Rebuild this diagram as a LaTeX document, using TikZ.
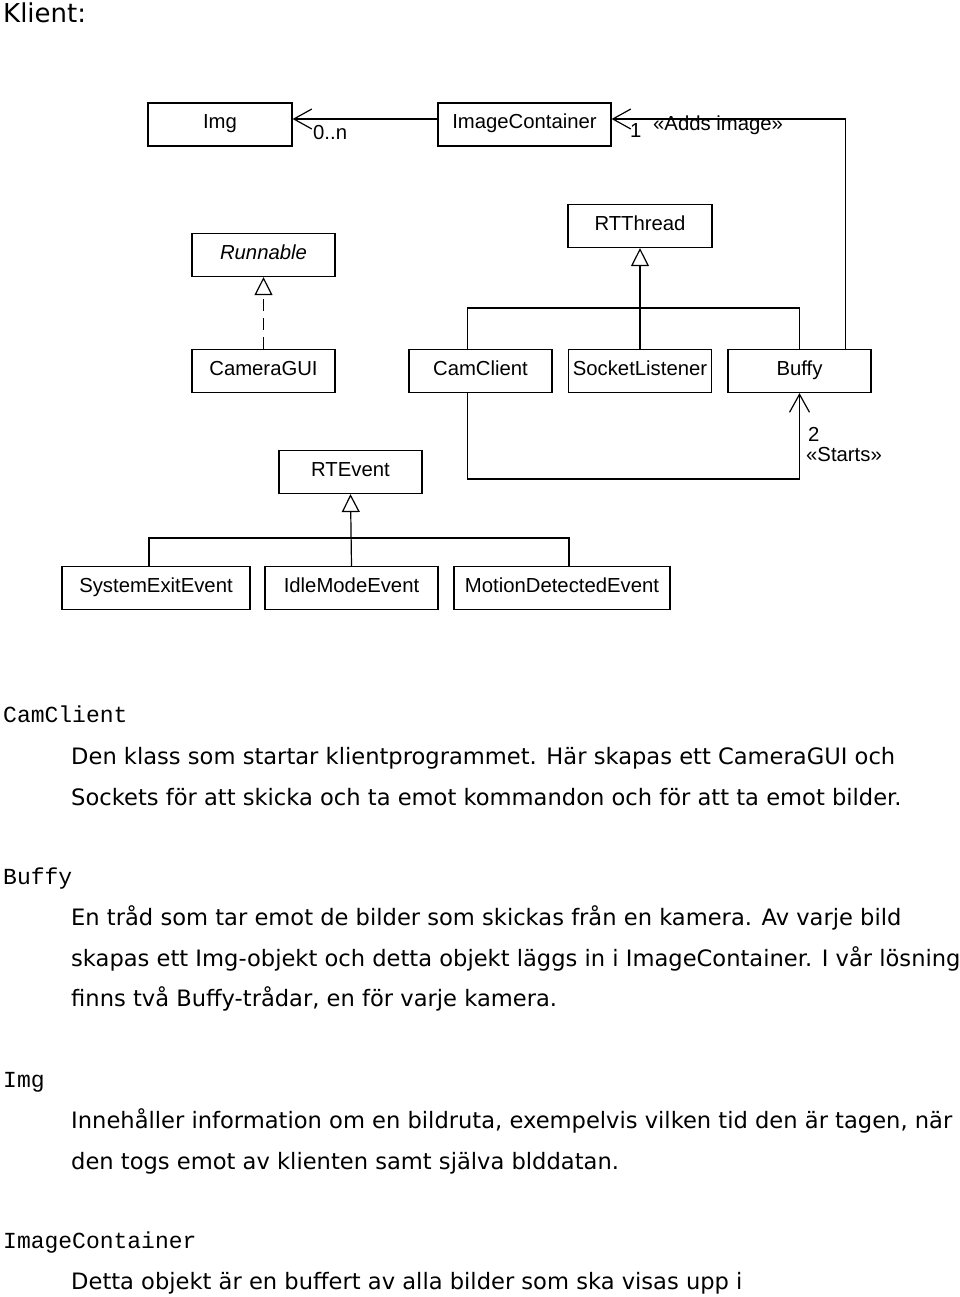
\documentclass[tikz,border=0pt]{standalone}
\usepackage{fontspec}
\setmainfont{DejaVu Sans}
\setmonofont{Liberation Mono}
\newfontfamily\umlfont{Liberation Sans}
\usetikzlibrary{arrows.meta}
\tikzset{>=latex}

\begin{document}
\begin{tikzpicture}[x=1pt,y=-1pt,
  class/.style={draw, line width=1.2pt, minimum height=43pt, inner sep=0pt, text height=14pt, text depth=6pt, font=\umlfont\fontsize{20.3}{20.3}\selectfont},
  gen/.style={line width=1.2pt, -{Triangle[open,length=18pt,width=18pt]}},
  assoc/.style={line width=1.2pt, -{Straight Barb[length=18pt,width=20pt]}},
  tag/.style={font=\umlfont\fontsize{20.3}{20.3}\selectfont, inner sep=0pt, anchor=base west},
  heading/.style={font=\ttfamily\fontsize{23}{23}\selectfont, inner sep=0pt, anchor=base west},
  para/.style={font=\fontsize{22.6}{22.6}\selectfont, inner sep=0pt, anchor=base west}]
\useasboundingbox (0,0) rectangle (960,1297);
\node[font=\fontsize{26}{26}\selectfont, inner sep=0pt, anchor=base west] (title) at (3,23) {Klient:};

\node[class, minimum width=144pt] (img) at (220,124.5) {Img};
\node[class, minimum width=173pt] (imgcont) at (524.5,124.5) {ImageContainer};
\node[class, minimum width=144pt] (rtthread) at (640,226) {RTThread};
\node[class, minimum width=143pt] (runnable) at (263.5,255) {\itshape Runnable};
\node[class, minimum width=143pt] (cameragui) at (263.5,371) {CameraGUI};
\node[class, minimum width=143pt] (camclient) at (480.5,371) {CamClient};
\node[class, minimum width=143pt] (socket) at (640,371) {SocketListener};
\node[class, minimum width=143pt] (buffy) at (799.5,371) {Buffy};
\node[class, minimum width=143pt] (rtevent) at (350.5,472) {RTEvent};
\node[class, minimum width=188pt] (sysexit) at (156,588) {SystemExitEvent};
\node[class, minimum width=173pt] (idle) at (351.5,588) {IdleModeEvent};
\node[class, minimum width=216pt] (motion) at (562,588) {MotionDetectedEvent};

\coordinate (threadbar) at (640,308);
\coordinate (startsbar) at (640,479);
\coordinate (eventbar) at (352,538);

\draw[assoc] ([yshift=5.5pt]imgcont.west) -- ([yshift=5.5pt]img.east);
\node[tag] (multn) at (313,140) {0..n};
\draw[assoc] ([xshift=46pt]buffy.north) |- ([yshift=5.5pt]imgcont.east);
\node[tag] (mult1) at (630,138) {1};
\node[tag] (adds) at (653,131) {«Adds image»};

\draw[gen] (socket.north) -- (rtthread.south);
\draw[line width=1.2pt] ([xshift=-13pt]camclient.north) |- (threadbar) -| (buffy.north);
\draw[gen, dash pattern=on 12pt off 7pt] (cameragui.north) -- (runnable.south);

\draw[assoc] ([xshift=-13pt]camclient.south) |- (startsbar) -| (buffy.south);
\node[tag] (mult2) at (808,441) {2};
\node[tag] (starts) at (806,461) {«Starts»};

\draw[gen] (idle.north) -- (rtevent.south);
\draw[line width=1.2pt] ([xshift=-7pt]sysexit.north) |- (eventbar) -| ([xshift=7pt]motion.north);

\node[heading] (hcam) at (3,722) {CamClient};
\node[para] (cam1) at (71,764) {Den klass som startar klientprogrammet. Här skapas ett CameraGUI och};
\node[para] (cam2) at (71,805) {Sockets för att skicka och ta emot kommandon och för att ta emot bilder.};
\node[heading] (hbuffy) at (3,884) {Buffy};
\node[para] (buf1) at (71,925) {En tråd som tar emot de bilder som skickas från en kamera. Av varje bild};
\node[para] (buf2) at (71,966) {skapas ett Img-objekt och detta objekt läggs in i ImageContainer. I vår lösning};
\node[para] (buf3) at (71,1006) {finns två Buffy-trådar, en för varje kamera.};
\node[heading] (himg) at (3,1087) {Img};
\node[para] (img1) at (71,1128) {Innehåller information om en bildruta, exempelvis vilken tid den är tagen, när};
\node[para] (img2) at (71,1169) {den togs emot av klienten samt själva blddatan.};
\node[heading] (hcont) at (3,1248) {ImageContainer};
\node[para] (cont1) at (71,1289) {Detta objekt är en buffert av alla bilder som ska visas upp i};
\end{tikzpicture}
\end{document}
